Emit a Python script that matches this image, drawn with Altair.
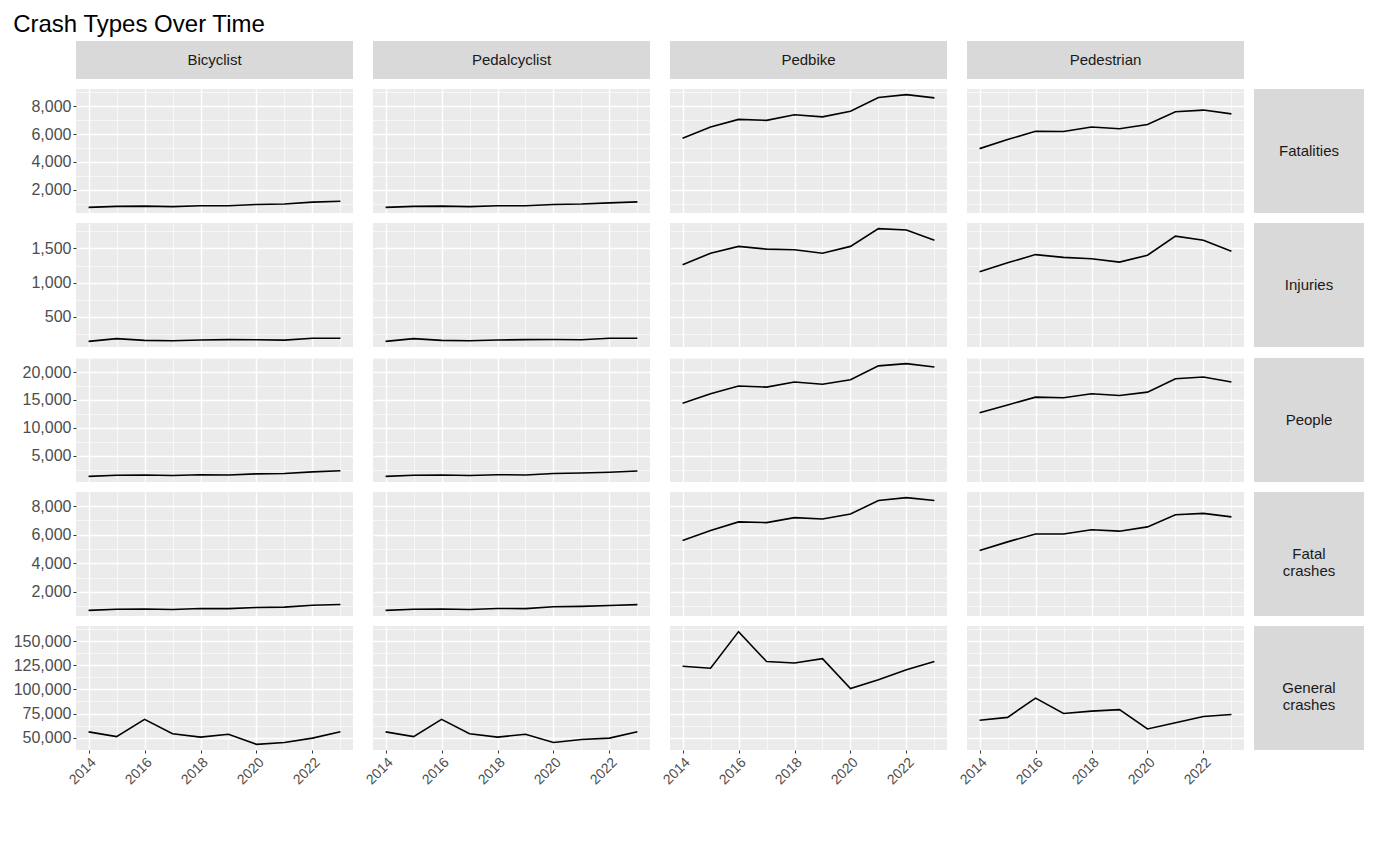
import altair as alt
import pandas as pd

years = list(range(2014, 2024))
types = ["Bicyclist", "Pedalcyclist", "Pedbike", "Pedestrian"]
metrics = ["Fatalities", "Injuries", "People", "Fatal crashes", "General crashes"]
strip_labels = ["Fatalities", "Injuries", "People", "Fatal\ncrashes", "General\ncrashes"]

fatalities = {
    "Bicyclist":    [729, 800, 817, 780, 850, 843, 938, 966, 1105, 1166],
    "Pedalcyclist": [729, 800, 817, 780, 850, 843, 938, 966, 1050, 1120],
    "Pedbike":      [5700, 6500, 7050, 6980, 7380, 7230, 7640, 8620, 8830, 8600],
    "Pedestrian":   [4950, 5600, 6200, 6180, 6500, 6380, 6680, 7600, 7720, 7450],
}
injuries = {
    "Bicyclist":    [140, 180, 155, 150, 160, 165, 163, 158, 185, 185],
    "Pedalcyclist": [140, 180, 155, 150, 160, 165, 168, 163, 185, 185],
    "Pedbike":      [1260, 1430, 1530, 1490, 1480, 1430, 1530, 1790, 1770, 1620],
    "Pedestrian":   [1160, 1290, 1410, 1370, 1350, 1300, 1400, 1680, 1620, 1460],
}
people = {
    "Bicyclist":    [1300, 1500, 1550, 1450, 1600, 1550, 1750, 1800, 2100, 2300],
    "Pedalcyclist": [1300, 1500, 1550, 1450, 1600, 1550, 1800, 1900, 2050, 2250],
    "Pedbike":      [14400, 16100, 17500, 17300, 18200, 17800, 18600, 21100, 21500, 20900],
    "Pedestrian":   [12700, 14100, 15500, 15400, 16100, 15800, 16400, 18800, 19100, 18200],
}
fatal_crashes = {
    "Bicyclist":    [700, 780, 800, 760, 830, 820, 900, 930, 1060, 1110],
    "Pedalcyclist": [700, 780, 800, 760, 830, 820, 950, 980, 1040, 1100],
    "Pedbike":      [5600, 6300, 6900, 6850, 7200, 7100, 7450, 8400, 8600, 8400],
    "Pedestrian":   [4900, 5500, 6050, 6050, 6350, 6250, 6550, 7400, 7500, 7250],
}
general_crashes = {
    "Bicyclist":    [56000, 51000, 69000, 54000, 50500, 53500, 43000, 45000, 49500, 56000],
    "Pedalcyclist": [56000, 51000, 69000, 54000, 50500, 53500, 45000, 48000, 49500, 56000],
    "Pedbike":      [124000, 122000, 160000, 129000, 127500, 132000, 101000, 110000, 120500, 129000],
    "Pedestrian":   [68000, 71000, 91000, 75000, 77500, 79000, 59000, 65500, 72000, 74000],
}
series = [fatalities, injuries, people, fatal_crashes, general_crashes]
major_steps = [2000, 500, 5000, 2000, 25000]

FONT = "Liberation Sans"
W, H = 277, 124
STRIP_H, STRIP_W = 38, 110
GREY = "#D9D9D9"


def strip(label, w, h):
    return alt.Chart(pd.DataFrame({"t": [label]})).mark_text(
        fontSize=15, font=FONT, color="#1A1A1A", lineBreak="\n"
    ).encode(
        text="t:N", x=alt.value(w / 2), y=alt.value(h / 2)
    ).properties(width=w, height=h, view=alt.ViewBackground(fill=GREY, strokeWidth=0))


cells = [strip(t, W, STRIP_H) for t in types]
cells.append(alt.Chart(pd.DataFrame({"t": [""]})).mark_text().encode(
    text="t:N").properties(width=STRIP_W, height=STRIP_H,
                           view=alt.ViewBackground(fill="white", strokeWidth=0)))

for r, (m, s) in enumerate(zip(metrics, series)):
    allv = [v for t in types for v in s[t]]
    lo, hi = min(allv), max(allv)
    pad = (hi - lo) * 0.05
    dom = [lo - pad, hi + pad]
    step = major_steps[r]
    minor = step / 2
    yvals = []
    v = 0
    while v <= dom[1]:
        if v >= dom[0] + minor * 0.3:
            yvals.append(v)
        v += minor
    last = r == len(metrics) - 1
    for c, t in enumerate(types):
        df = pd.DataFrame({"year": years, "value": s[t]})
        yaxis = alt.Axis(
            values=yvals, title=None, domain=False,
            labels=(c == 0), ticks=(c == 0),
            labelExpr=f"datum.value % {step} === 0 ? format(datum.value, ',') : ''",
            tickSize={"condition": {"test": f"datum.value % {step} === 0", "value": 3}, "value": 0},
            gridColor="white",
            gridWidth={"condition": {"test": f"datum.value % {step} === 0", "value": 1.4}, "value": 0.6},
            labelFontSize=16, labelColor="#4D4D4D", tickColor="#333333", labelFont=FONT,
        )
        xaxis = alt.Axis(
            values=years, title=None, domain=False,
            labels=last, ticks=last, labelAngle=-45, labelAlign="right",
            labelExpr="datum.value % 2 === 0 ? datum.value : ''",
            tickSize={"condition": {"test": "datum.value % 2 === 0", "value": 3}, "value": 0},
            gridColor="white",
            gridWidth={"condition": {"test": "datum.value % 2 === 0", "value": 1.4}, "value": 0.6},
            labelFontSize=14, labelColor="#4D4D4D", tickColor="#333333", labelFont=FONT,
        )
        ch = alt.Chart(df).mark_line(color="black", strokeWidth=1.6, clip=True).encode(
            x=alt.X("year:Q", scale=alt.Scale(domain=[2013.55, 2023.45], nice=False, zero=False), axis=xaxis),
            y=alt.Y("value:Q", scale=alt.Scale(domain=dom, nice=False, zero=False), axis=yaxis),
        ).properties(width=W, height=H)
        cells.append(ch)
    cells.append(strip(strip_labels[r], STRIP_W, H))

chart = alt.concat(*cells, columns=5, spacing=10).properties(
    title=alt.TitleParams("Crash Types Over Time", anchor="start", fontSize=24,
                          font=FONT, fontWeight="normal", color="black"),
    background="white",
).configure_view(fill="#EBEBEB", strokeWidth=0)

chart.save("out.html", embed_options={"renderer": "svg", "actions": False})
